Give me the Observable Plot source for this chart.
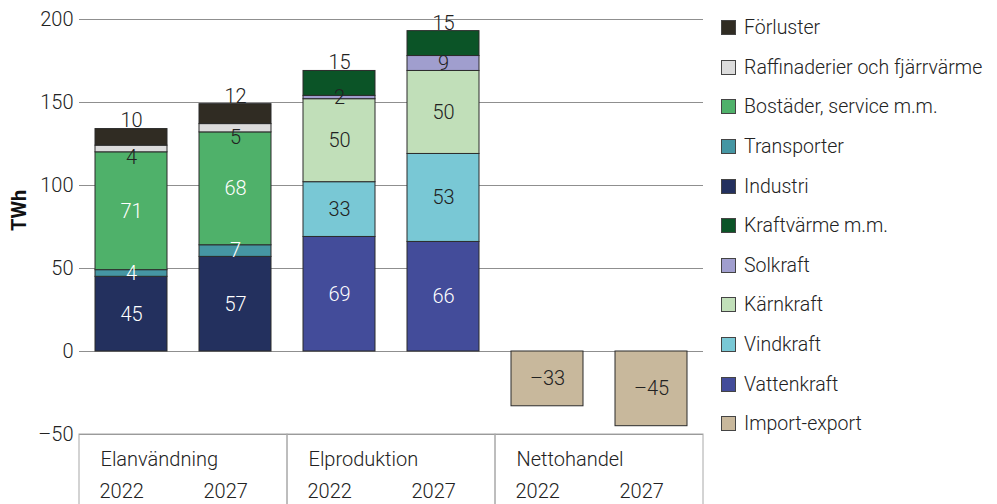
<!DOCTYPE html>
<html>
<head>
<meta charset="utf-8">
<script src="https://cdn.jsdelivr.net/npm/d3@7"></script>
<script src="https://cdn.jsdelivr.net/npm/@observablehq/plot@0.6"></script>
<style>
  html, body { margin: 0; padding: 0; background: #fff; overflow: hidden; }
  #wrap { position: relative; width: 997px; height: 504px; font-family: Roboto, "Liberation Sans", sans-serif; font-weight: 300; color: #222; }
  #legend { position: absolute; left: 721px; top: 8px; }
  .li { display: flex; align-items: center; height: 39.6px; font-size: 19.5px; white-space: nowrap; }
  .sw { width: 13px; height: 13px; border: 1px solid #444; margin-right: 8px; box-sizing: content-box; }
</style>
</head>
<body>
<div id="wrap"><div id="legend"></div></div>
<script>
// ---- data ----
const groups = ["Elanvändning", "Elproduktion", "Nettohandel"];
const years = ["2022", "2027"];
const series = ["Förluster", "Raffinaderier och fjärrvärme", "Bostäder, service m.m.", "Transporter", "Industri",
                "Kraftvärme m.m.", "Solkraft", "Kärnkraft", "Vindkraft", "Vattenkraft", "Import-export"];
const colors = ["#302c23", "#dcdcdc", "#4fb16a", "#4596a3", "#23305e",
                "#0b5427", "#a09ece", "#c1dfb9", "#79c8d5", "#434c9a", "#c8b89c"];
// stacking order from bottom to top
const stackOrder = ["Industri", "Transporter", "Bostäder, service m.m.", "Raffinaderier och fjärrvärme", "Förluster",
                    "Vattenkraft", "Vindkraft", "Kärnkraft", "Solkraft", "Kraftvärme m.m.", "Import-export"];
// values per group/year
const elanvandning2022 = {"Industri": 45, "Transporter": 4, "Bostäder, service m.m.": 71, "Raffinaderier och fjärrvärme": 4, "Förluster": 10};
const elanvandning2027 = {"Industri": 57, "Transporter": 7, "Bostäder, service m.m.": 68, "Raffinaderier och fjärrvärme": 5, "Förluster": 12};
const elproduktion2022 = {"Vattenkraft": 69, "Vindkraft": 33, "Kärnkraft": 50, "Solkraft": 2, "Kraftvärme m.m.": 15};
const elproduktion2027 = {"Vattenkraft": 66, "Vindkraft": 53, "Kärnkraft": 50, "Solkraft": 9, "Kraftvärme m.m.": 15};
const nettohandel2022 = {"Import-export": -33};
const nettohandel2027 = {"Import-export": -45};
const yTicks = [-50, 0, 50, 100, 150, 200];

const columns = [
  ["Elanvändning", "2022", elanvandning2022], ["Elanvändning", "2027", elanvandning2027],
  ["Elproduktion", "2022", elproduktion2022], ["Elproduktion", "2027", elproduktion2027],
  ["Nettohandel", "2022", nettohandel2022], ["Nettohandel", "2027", nettohandel2027]
];
const data = [];
for (const [group, year, vals] of columns)
  for (const s of stackOrder)
    if (vals[s] !== undefined) data.push({group, year, series: s, value: vals[s]});

const darkSeries = new Set(["Industri", "Transporter", "Bostäder, service m.m.", "Vattenkraft"]);
const topSeries = new Set(["Förluster", "Kraftvärme m.m."]);
const fmt = v => v < 0 ? "\u2013" + Math.abs(v) : String(v);
const orderFn = d => stackOrder.indexOf(d.series);

const textColor = "#222";
const fontFamily = 'Roboto, "Liberation Sans", sans-serif';
const stackBase = {fx: "group", x: "year", y: "value", z: "series", order: orderFn};

const chart = Plot.plot({
  width: 997,
  height: 504,
  marginLeft: 78,
  marginRight: 294,
  marginTop: 19,
  marginBottom: 70,
  style: {fontFamily, fontSize: "20px", fontWeight: 300, color: textColor, background: "transparent"},
  fx: {domain: groups, padding: 0, axis: null},
  x: {domain: years, paddingInner: 0.31, paddingOuter: 0.155, axis: null},
  y: {domain: [-50, 200], axis: null},
  color: {domain: series, range: colors},
  marks: [
    Plot.ruleY(yTicks, {stroke: "#8f8f8f", strokeWidth: 1}),
    Plot.rect([0], {y1: -50, y2: -100, fill: "none", stroke: "#a8a8a8", strokeWidth: 1}),
    Plot.axisY({ticks: yTicks, tickSize: 0, tickPadding: 6, tickFormat: fmt, label: null, fontSize: 20, fill: textColor}),
    Plot.barY(data, {...stackBase, fill: "series", stroke: "#2b2b2b", strokeWidth: 1}),
    // labels inside dark segments
    Plot.text(data, Plot.stackY({...stackBase,
      text: d => darkSeries.has(d.series) ? fmt(d.value) : null, fill: "white", fontSize: 20})),
    // labels inside light segments
    Plot.text(data, Plot.stackY({...stackBase,
      text: d => (!darkSeries.has(d.series) && !topSeries.has(d.series) && d.series !== "Raffinaderier och fjärrvärme") ? fmt(d.value) : null,
      fill: textColor, fontSize: 20})),
    // thin refinery segment: label just below
    Plot.text(data, Plot.stackY({...stackBase,
      text: d => d.series === "Raffinaderier och fjärrvärme" ? fmt(d.value) : null,
      fill: textColor, fontSize: 20, dy: 9})),
    // top segments: label above the bar
    Plot.text(data, Plot.stackY2({...stackBase,
      text: d => topSeries.has(d.series) ? fmt(d.value) : null,
      fill: textColor, fontSize: 20, dy: -8})),
    // table labels
    Plot.text(groups, {fx: d => d, text: d => d, frameAnchor: "bottom-left", textAnchor: "start",
      dx: 21, dy: 31, fill: textColor, fontSize: 20}),
    Plot.text(columns.map(([group, year]) => ({group, year})), {fx: "group", x: "year", text: "year",
      frameAnchor: "bottom", textAnchor: "start", dx: -32, dy: 63, fill: textColor, fontSize: 20}),
    // y label
    Plot.text(["TWh"], {fx: [groups[0]], text: d => d, frameAnchor: "left", rotate: -90,
      dx: -60, dy: 4, fontWeight: "bold", fontSize: 20, fill: "#111"})
  ]
});
document.getElementById("wrap").prepend(chart);

// legend (top-to-bottom order as in reference)
const legend = document.getElementById("legend");
series.forEach((s, i) => {
  const row = document.createElement("div");
  row.className = "li";
  const sw = document.createElement("span");
  sw.className = "sw";
  sw.style.background = colors[i];
  row.appendChild(sw);
  row.appendChild(document.createTextNode(s));
  legend.appendChild(row);
});
</script>
</body>
</html>
